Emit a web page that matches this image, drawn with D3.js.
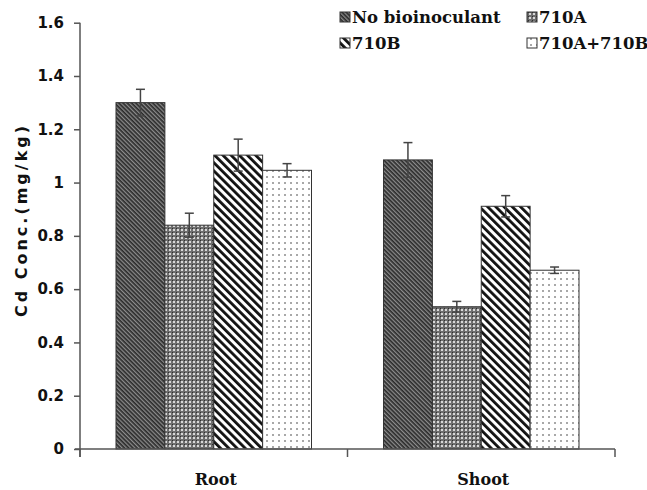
<!DOCTYPE html>
<html><head><meta charset="utf-8">
<script src="https://cdn.jsdelivr.net/npm/d3@7"></script>
<style>body{margin:0;background:#fff}svg{display:block}</style>
</head><body>
<script>
const categories = ["Root", "Shoot"];
const seriesNames = ["No bioinoculant", "710A", "710B", "710A+710B"];
const noBio   = [1.30, 1.085];
const a710    = [0.84, 0.534];
const b710    = [1.103, 0.911];
const ab710   = [1.046, 0.671];
const errNoBio = [0.05, 0.065];
const errA     = [0.045, 0.02];
const errB     = [0.06, 0.04];
const errAB    = [0.025, 0.012];
const yTicks = [0, 0.2, 0.4, 0.6, 0.8, 1, 1.2, 1.4, 1.6];

const values = [noBio, a710, b710, ab710];
const errs = [errNoBio, errA, errB, errAB];

const W = 647, H = 490;
const svg = d3.select("body").append("svg").attr("width", W).attr("height", H);
const defs = svg.append("defs");

const p0 = defs.append("pattern").attr("id","pat0").attr("patternUnits","userSpaceOnUse")
  .attr("width",3).attr("height",3).attr("patternTransform","rotate(-45)");
p0.append("rect").attr("width",3).attr("height",3).attr("fill","#2b2b2b");
p0.append("rect").attr("width",1.3).attr("height",3).attr("fill","#8c8c8c");

const p1 = defs.append("pattern").attr("id","pat1").attr("patternUnits","userSpaceOnUse")
  .attr("width",4).attr("height",4);
p1.append("rect").attr("width",4).attr("height",4).attr("fill","#6e6e6e");
p1.append("rect").attr("x",1).attr("y",1).attr("width",2).attr("height",2).attr("fill","#d8d8d8");
p1.append("rect").attr("x",0).attr("y",0).attr("width",1).attr("height",1).attr("fill","#2e2e2e");

const p2 = defs.append("pattern").attr("id","pat2").attr("patternUnits","userSpaceOnUse")
  .attr("width",5.8).attr("height",6).attr("patternTransform","rotate(-45)");
p2.append("rect").attr("width",5.8).attr("height",6).attr("fill","#fff");
p2.append("rect").attr("width",2.8).attr("height",6).attr("fill","#111");

const p3 = defs.append("pattern").attr("id","pat3").attr("patternUnits","userSpaceOnUse")
  .attr("width",6).attr("height",6);
p3.append("rect").attr("width",6).attr("height",6).attr("fill","#fff");
p3.append("rect").attr("x",2).attr("y",2).attr("width",2).attr("height",2).attr("fill","#a8a8a8");

const fills = ["url(#pat0)","url(#pat1)","url(#pat2)","url(#pat3)"];

const x0 = d3.scaleBand().domain(categories).range([80, 615]).paddingInner(0).paddingOuter(0);
const x1 = d3.scaleBand().domain(seriesNames).range([36, x0.bandwidth()-36]).padding(0);
const y = d3.scaleLinear().domain([0, 1.6]).range([449, 22.7]);

const serif = "'DejaVu Serif', serif";
const sans = "'DejaVu Sans', sans-serif";

seriesNames.forEach((s, si) => {
  categories.forEach((c, ci) => {
    const v = values[si][ci];
    svg.append("rect")
      .attr("x", x0(c) + x1(s))
      .attr("y", y(v))
      .attr("width", x1.bandwidth())
      .attr("height", y(0) - y(v))
      .attr("fill", fills[si])
      .attr("stroke", "#333").attr("stroke-width", 1);
  });
});

seriesNames.forEach((s, si) => {
  categories.forEach((c, ci) => {
    const v = values[si][ci], e = errs[si][ci];
    const cx = x0(c) + x1(s) + x1.bandwidth()/2;
    const g = svg.append("g").attr("stroke","#444").attr("stroke-width",1.5);
    g.append("line").attr("x1",cx).attr("x2",cx).attr("y1",y(v+e)).attr("y2",y(v-e));
    g.append("line").attr("x1",cx-4.5).attr("x2",cx+4.5).attr("y1",y(v+e)).attr("y2",y(v+e));
    g.append("line").attr("x1",cx-4.5).attr("x2",cx+4.5).attr("y1",y(v-e)).attr("y2",y(v-e));
  });
});

const yAxis = d3.axisLeft(y).tickValues(yTicks).tickFormat(d => d3.format("")(+d.toFixed(1))).tickSizeOuter(0).tickSize(6).tickPadding(10);
const gy = svg.append("g").attr("transform","translate(80,0)").call(yAxis);
gy.select(".domain").attr("stroke","#555").attr("stroke-width",1.5).attr("d","M0,22.7V457");
gy.selectAll(".tick line").attr("stroke","#555").attr("stroke-width",1.5);
gy.selectAll(".tick text").attr("font-family",sans).attr("font-weight","bold").attr("font-size",15).attr("fill","#111");

const gx = svg.append("g");
gx.append("line").attr("x1",75).attr("x2",615).attr("y1",449).attr("y2",449).attr("stroke","#555").attr("stroke-width",1.5);
[x0.range()[0], x0(categories[1]), x0.range()[1]].forEach(xx => {
  gx.append("line").attr("x1",xx).attr("x2",xx).attr("y1",449).attr("y2",457).attr("stroke","#555").attr("stroke-width",1.5);
});
categories.forEach(c => {
  svg.append("text").attr("x", x0(c) + x0.bandwidth()/2 + 2).attr("y", 485)
    .attr("text-anchor","middle").attr("font-family",serif).attr("font-weight","bold")
    .attr("font-size",16).attr("fill","#111").text(c);
});

svg.append("text").attr("transform","translate(27,220) rotate(-90)")
  .attr("text-anchor","middle").attr("font-family",sans).attr("font-weight","bold")
  .attr("font-size",16).attr("letter-spacing",3).attr("fill","#111").text("Cd Conc.(mg/kg)");

const legPos = [[340,18],[527,18],[340,44],[527,44]];
seriesNames.forEach((s, si) => {
  const [lx, ly] = legPos[si];
  svg.append("rect").attr("x",lx).attr("y",ly-6).attr("width",10).attr("height",10)
    .attr("fill",fills[si]).attr("stroke","#333").attr("stroke-width",1);
  svg.append("text").attr("x",lx+12).attr("y",ly+5).attr("font-family",serif).attr("font-weight","bold")
    .attr("font-size",16.5).attr("fill","#111").text(s);
});
</script>
</body></html>
